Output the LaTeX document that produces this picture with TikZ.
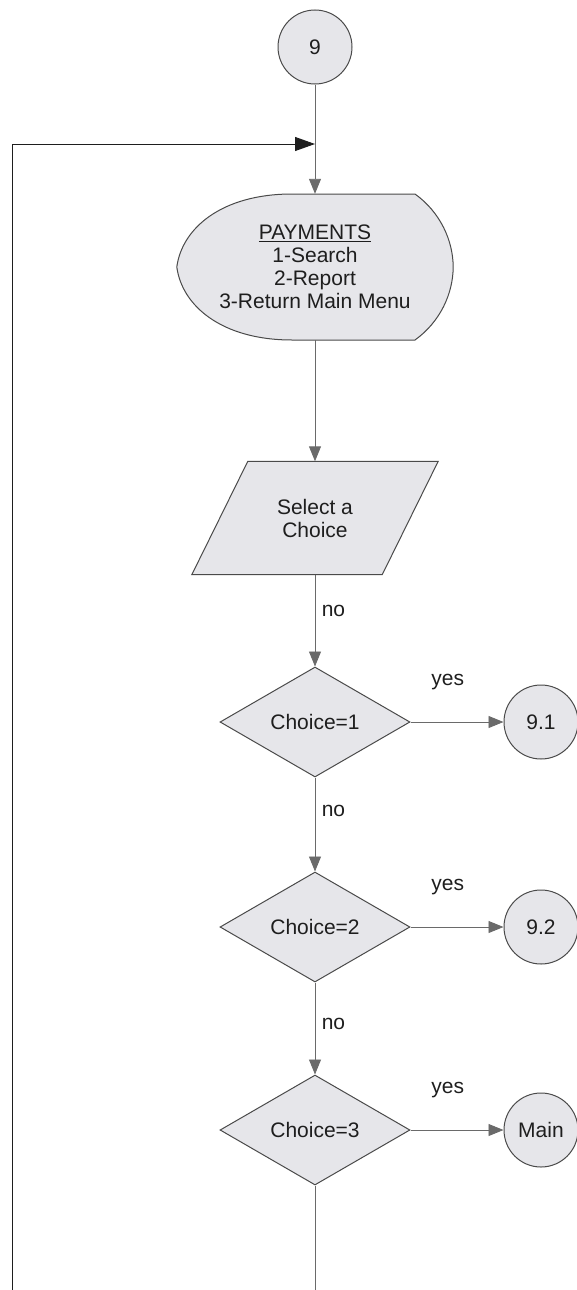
\documentclass[tikz,border=0pt]{standalone}
\usepackage{fontspec}
\setmainfont{Liberation Sans}
\usetikzlibrary{shapes.geometric,arrows.meta,backgrounds}
\definecolor{boxfill}{HTML}{E6E6EA}
\definecolor{outline}{HTML}{4A4A4A}
\definecolor{wire}{HTML}{6A6A6A}
\definecolor{ink}{HTML}{1E1E1E}

\begin{document}
\begin{tikzpicture}[x=1pt,y=-1pt,font=\fontsize{21}{23}\selectfont,text=ink,
  conn/.style={circle,draw=outline,fill=boxfill,line width=1pt,minimum size=74pt,inner sep=0pt},
  choicebox/.style={diamond,draw=outline,fill=boxfill,line width=1pt,minimum width=190pt,minimum height=110pt,inner sep=0pt},
  plainbox/.style={draw=none,inner sep=0pt,align=center},
  shapeline/.style={draw=outline,fill=boxfill,line width=1pt},
  answer/.style={text=ink},
  flow/.style={wire,line width=0.9pt,-{Triangle[length=15pt,width=12pt]}}]
  \useasboundingbox (0,0) rectangle (576,1290);
  \node[conn] (c9) at (315,47) {9};
  \node[plainbox,minimum width=276pt,minimum height=146pt] (menu) at (315,267)
    {\underline{PAYMENTS}\\1-Search\\2-Report\\3-Return Main Menu};
  \node[plainbox,minimum width=246pt,minimum height=113pt] (sel) at (315,518) {Select a\\Choice};
  \begin{scope}[on background layer]
    % display shape and input parallelogram
    \filldraw[shapeline] (menu.west) .. controls (182,228) and (222,194) .. (292,194) -- (415,194)
      .. controls (440,212) and (453,240) .. (menu.east)
      .. controls (453,294) and (440,322) .. (415,340) -- (292,340)
      .. controls (222,340) and (182,306) .. cycle;
    \filldraw[shapeline] ([xshift=56pt]sel.north west) -- (sel.north east)
      -- ([xshift=-56pt]sel.south east) -- (sel.south west) -- cycle;
  \end{scope}
  \foreach \i/\y/\t in {1/722/9.1,2/927/9.2,3/1130/Main}{
    \node[choicebox] (d\i) at (315,\y) {Choice=\i};
    \node[conn] (c\i) at (541,\y) {\t};
    \draw[flow] (d\i) -- node[answer,pos=0.4,yshift=40pt]{yes} (c\i);
  }
  \coordinate (join) at (315,144);
  \coordinate (loopbot) at (12,1290);
  \draw[flow] (c9) -- (menu);
  \draw[ink,line width=1pt,-{Triangle[length=20pt,width=14pt]}] (loopbot) |- (join);
  \draw[flow] (menu) -- (sel);
  \draw[flow] (sel) -- node[answer,pos=0.4,anchor=west,xshift=3pt]{no} (d1);
  \draw[flow] (d1) -- node[answer,pos=0.36,anchor=west,xshift=3pt]{no} (d2);
  \draw[flow] (d2) -- node[answer,pos=0.45,anchor=west,xshift=3pt]{no} (d3);
  \draw[wire,line width=0.9pt] (d3.south) -- (d3.south |- loopbot);
\end{tikzpicture}
\end{document}
